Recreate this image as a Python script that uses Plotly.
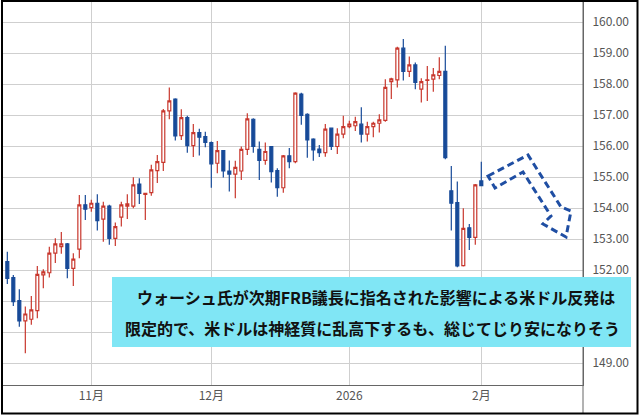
import pandas as pd
import plotly.graph_objects as go

# ---- data (USD/JPY daily candles) ----
dates = [d.strftime("%Y-%m-%d") for d in pd.bdate_range("2025-10-14", "2026-02-02")]

opens = [152.28, 151.76, 151.02, 150.37, 150.42, 150.70, 151.85, 151.92, 152.55, 152.76,
         152.85, 152.06, 152.68, 154.11, 154.02, 154.16, 153.65, 154.07, 153.03, 153.71,
         154.07, 154.07, 154.78, 154.45, 154.50, 155.21, 155.48, 157.14, 157.52, 156.34,
         156.92, 156.02, 156.44, 156.31, 156.12, 155.45, 155.86, 155.20, 155.10, 155.20,
         155.90, 156.87, 155.90, 155.54, 155.99, 155.21, 154.66, 155.69, 155.50, 157.68,
         157.03, 156.23, 155.91, 155.79, 156.58, 155.99, 156.39, 156.63, 156.66, 156.71,
         156.39, 156.63, 156.74, 156.83, 158.08, 158.14, 159.16, 158.41, 158.62, 157.84,
         158.12, 158.16, 158.28, 158.41, 154.56, 154.18, 152.15, 153.37, 153.06, 154.88]
highs = [152.60, 151.85, 151.39, 150.83, 151.17, 152.14, 152.03, 152.76, 153.03, 153.23,
         152.88, 152.55, 154.43, 154.43, 154.27, 154.45, 154.21, 154.11, 153.54, 154.21,
         154.45, 155.00, 154.97, 154.50, 155.40, 155.72, 157.20, 157.89, 157.55, 157.19,
         156.98, 156.72, 156.56, 156.47, 156.15, 156.17, 155.88, 155.54, 155.53, 155.99,
         157.06, 156.90, 156.15, 156.12, 156.00, 155.29, 155.72, 155.94, 157.74, 157.72,
         157.06, 156.26, 156.04, 156.72, 156.60, 156.58, 156.98, 156.82, 156.95, 157.26,
         156.79, 156.79, 157.03, 158.16, 158.21, 159.21, 159.46, 158.89, 158.70, 158.19,
         158.59, 158.52, 158.87, 159.24, 155.36, 154.86, 154.00, 153.49, 154.78, 155.50]
lows = [151.56, 150.85, 150.18, 149.32, 150.24, 150.45, 151.42, 151.77, 152.23, 152.53,
        151.74, 151.49, 152.39, 153.62, 153.89, 153.28, 152.92, 152.82, 152.78, 153.41,
        153.65, 154.00, 154.14, 153.62, 154.40, 154.81, 155.20, 156.87, 156.18, 156.20,
        155.79, 155.65, 155.70, 155.97, 154.66, 155.13, 154.99, 154.54, 154.32, 154.91,
        155.72, 155.79, 154.91, 155.40, 154.83, 154.37, 154.50, 155.29, 155.45, 156.69,
        155.63, 155.53, 155.65, 155.66, 155.88, 155.75, 156.26, 156.58, 156.49, 156.12,
        156.15, 156.29, 156.44, 156.79, 157.52, 157.89, 158.12, 158.23, 157.84, 157.41,
        157.46, 157.76, 158.16, 155.58, 153.28, 152.10, 152.12, 152.65, 152.82, 154.72]
closes = [151.74, 150.99, 150.37, 150.59, 150.72, 151.87, 151.95, 152.55, 152.85, 152.85,
          152.06, 152.36, 154.11, 153.97, 154.16, 153.60, 154.07, 153.03, 153.41, 154.11,
          154.14, 154.75, 154.48, 154.48, 155.24, 155.50, 157.14, 157.46, 156.33, 156.92,
          156.02, 156.44, 156.29, 156.12, 155.43, 155.86, 155.20, 155.10, 155.32, 155.90,
          156.88, 155.99, 155.54, 155.83, 155.18, 154.66, 155.69, 155.50, 157.71, 156.99,
          156.20, 155.88, 155.79, 156.55, 155.99, 156.39, 156.63, 156.71, 156.79, 156.39,
          156.63, 156.74, 156.85, 157.90, 158.17, 159.16, 158.41, 158.62, 158.06, 158.08,
          158.14, 158.30, 158.41, 155.63, 154.16, 152.14, 153.35, 153.06, 154.75, 154.73]

tick_dates = ["2025-11-03", "2025-12-01", "2026-01-01", "2026-02-02"]
tick_labels = ["11月", "12月", "2026", "2月"]
y_ticks = [149, 150, 151, 152, 153, 154, 155, 156, 157, 158, 159, 160]
# 150.00 and 151.00 sit under the caption box in the reference
y_hidden = [150, 151]

line1 = "ウォーシュ氏が次期FRB議長に指名された影響による米ドル反発は"
line2 = "限定的で、米ドルは神経質に乱高下するも、総じてじり安になりそう"

RED = "#c8372d"
BLUE = "#174a98"
FONT = "Noto Sans CJK JP"

fig = go.Figure(go.Candlestick(
    x=dates, open=opens, high=highs, low=lows, close=closes,
    increasing=dict(line=dict(color=RED, width=1.2), fillcolor="white"),
    decreasing=dict(line=dict(color=BLUE, width=1.2), fillcolor=BLUE),
    whiskerwidth=0, showlegend=False,
))

fig.update_layout(
    width=640, height=415,
    margin=dict(l=3, r=57, t=2, b=30),
    paper_bgcolor="white", plot_bgcolor="white",
    showlegend=False,
    font=dict(family=FONT, color="#555555", size=12),
    xaxis=dict(
        type="category", range=[-0.72, 95.95],
        rangeslider=dict(visible=False),
        tickvals=tick_dates, ticktext=tick_labels,
        showgrid=True, gridcolor="#cfcfcf", gridwidth=1,
        showline=True, linecolor="#666666", linewidth=1,
        ticks="", tickfont=dict(size=12, color="#555555"),
        fixedrange=True,
    ),
    yaxis=dict(
        side="right", range=[148.3, 160.65],
        tickvals=y_ticks,
        ticktext=["" if v in y_hidden else f"{v:.2f}" for v in y_ticks],
        showgrid=True, gridcolor="#cfcfcf", gridwidth=1,
        showline=True, linecolor="#666666", linewidth=1,
        ticks="", ticklabelstandoff=6,
        tickfont=dict(size=12, color="#555555"),
        zeroline=False, fixedrange=True,
    ),
)

def px(x):
    return (x - 3) / 580.0

def py(y):
    return (385 - y) / 383.0

# right axis line extending into the label strip
fig.add_shape(type="line", xref="paper", yref="paper",
              x0=1, x1=1, y0=py(413), y1=1, line=dict(color="#666666", width=1), layer="above")

# dashed forecast arrow
pts = [(488, 176), (528, 155), (561, 207), (571, 211), (566, 237),
       (543, 224), (551, 216), (523, 172), (495, 188)]
path = "M " + " L ".join(f"{px(a):.4f},{py(b):.4f}" for a, b in pts) + " Z"
fig.add_shape(type="path", xref="paper", yref="paper", path=path,
              line=dict(color="#1f4ea3", width=3, dash="7px,4px"), layer="above")

# text box
fig.add_shape(type="rect", xref="paper", yref="paper",
              x0=px(112), x1=px(631), y0=py(347), y1=py(277),
              fillcolor="#80e6f5", line=dict(width=0), layer="above")
fig.add_annotation(xref="paper", yref="paper", x=px(376), y=py(297), text=line1,
                   showarrow=False, xanchor="center", yanchor="middle",
                   font=dict(family=FONT, size=16, color="#111111", weight="bold"))
fig.add_annotation(xref="paper", yref="paper", x=px(372), y=py(328), text=line2,
                   showarrow=False, xanchor="center", yanchor="middle",
                   font=dict(family=FONT, size=16, color="#111111", weight="bold"))

# outer frame
fig.add_shape(type="rect", xref="paper", yref="paper",
              x0=px(2), x1=px(637.5), y0=py(413.5), y1=py(1),
              line=dict(color="black", width=2), fillcolor="rgba(0,0,0,0)", layer="above")

fig.write_html("out.html", config={"displayModeBar": False},
               post_script="document.body.style.margin='0';document.body.style.padding='0';")
